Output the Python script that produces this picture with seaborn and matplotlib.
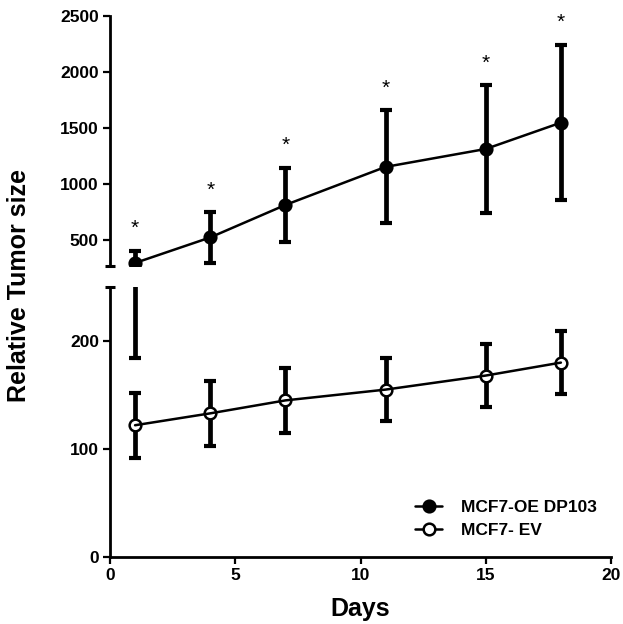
import numpy as np
import pandas as pd
import matplotlib
matplotlib.use("Agg")
import matplotlib.pyplot as plt
import seaborn as sns
from matplotlib.lines import Line2D

# ---- data ----
days = [1, 4, 7, 11, 15, 18]
dp103_mean = [292, 520, 810, 1150, 1310, 1545]
dp103_sd = [108, 225, 330, 505, 570, 695]
ev_mean = [122, 133, 145, 155, 168, 180]
ev_sd = [30, 30, 30, 29, 29, 29]
series_labels = ["MCF7-OE DP103", "MCF7- EV"]
signif = ["*", "*", "*", "*", "*", "*"]
x_ticks = [0, 5, 10, 15, 20]
upper_ticks = [500, 1000, 1500, 2000, 2500]
lower_ticks = [0, 100, 200]
x_label = "Days"
y_label = "Relative Tumor size"

sns.set_theme(style="ticks")
plt.rcParams["font.family"] = ["Liberation Sans", "DejaVu Sans"]
plt.rcParams["font.weight"] = "bold"
for k in ("text.color", "axes.labelcolor", "xtick.color", "ytick.color",
          "axes.edgecolor"):
    plt.rcParams[k] = "black"

df = pd.DataFrame({
    "Days": days * 2,
    "size": dp103_mean + ev_mean,
    "sd": dp103_sd + ev_sd,
    "group": [series_labels[0]] * len(days) + [series_labels[1]] * len(days),
})

W_PX, H_PX = 623, 624
fig = plt.figure(figsize=(W_PX / 100, H_PX / 100), dpi=100)
left = 110 / W_PX
width = 501 / W_PX
ax_top = fig.add_axes([left, (H_PX - 266) / H_PX, width, 250.3 / H_PX])
ax_bot = fig.add_axes([left, (H_PX - 557) / H_PX, width, 270 / H_PX])

face = {series_labels[0]: "black", series_labels[1]: "white"}

for ax in (ax_top, ax_bot):
    for name, sub in df.groupby("group", sort=False):
        ax.errorbar(sub["Days"], sub["size"], yerr=sub["sd"], fmt="none",
                    ecolor="black", elinewidth=3.4, capsize=4.6, capthick=3.0,
                    zorder=1)
        sns.lineplot(data=sub, x="Days", y="size", ax=ax, color="black",
                     linestyle="", marker="o", markersize=8.4,
                     markerfacecolor=face[name], markeredgecolor="black",
                     markeredgewidth=1.8, errorbar=None, zorder=2, legend=False)
        sns.lineplot(data=sub, x="Days", y="size", ax=ax, color="black",
                     linewidth=1.8, errorbar=None, zorder=3, legend=False)
    ax.set_xlim(0, 20)
    ax.set_xlabel("")
    ax.set_ylabel("")
    for s in ("top", "right"):
        ax.spines[s].set_visible(False)
    for s in ("left", "bottom"):
        ax.spines[s].set_linewidth(2.0)
        ax.spines[s].set_color("black")
    ax.tick_params(axis="both", direction="out", length=5, width=1.6,
                   color="black", labelsize=12.5, pad=3, labelcolor="black")

# upper segment
ax_top.set_ylim(265, 2500)
ax_top.set_yticks(upper_ticks)
ax_top.spines["bottom"].set_visible(False)
ax_top.tick_params(axis="x", bottom=False, labelbottom=False)
ax_top.plot([0], [0], transform=ax_top.transAxes, marker="_", ms=6.8,
            mew=2.2, color="black", clip_on=False)

# lower segment
ax_bot.set_ylim(0, 250)
ax_bot.set_yticks(lower_ticks)
ax_bot.set_xticks(x_ticks)
ax_bot.plot([0], [1], transform=ax_bot.transAxes, marker="_", ms=6.8,
            mew=2.2, color="black", clip_on=False)
for lab in ax_bot.get_xticklabels() + ax_bot.get_yticklabels() + ax_top.get_yticklabels():
    lab.set_fontweight("bold")
    lab.set_color("black")

# significance marks
for d, m, s, t in zip(days, dp103_mean, dp103_sd, signif):
    ax_top.annotate(t, xy=(d, m + s), xytext=(0, 16), textcoords="offset points",
                    ha="center", va="center", fontsize=15, fontweight="normal",
                    color="black", annotation_clip=False)

# legend
handles = [
    Line2D([0], [0], color="black", lw=1.8, marker="o", ms=8.4,
           mfc="black", mec="black", mew=1.8),
    Line2D([0], [0], color="black", lw=1.8, marker="o", ms=8.4,
           mfc="white", mec="black", mew=1.8),
]
leg = ax_bot.legend(handles, series_labels, loc="lower left",
                    bbox_to_anchor=(0.609, 0.07), frameon=False, borderpad=0,
                    borderaxespad=0, handlelength=1.55, handletextpad=1.1,
                    labelspacing=0.45, prop={"weight": "bold", "size": 12.5})
for t in leg.get_texts():
    t.set_color("black")

fig.text(360 / W_PX, 1 - 609 / H_PX, x_label, ha="center", va="center",
         fontsize=18, fontweight="bold", color="black")
fig.text(19 / W_PX, 1 - 286 / H_PX, y_label, ha="center", va="center",
         rotation=90, fontsize=18, fontweight="bold", color="black")

fig.savefig("out.png", dpi=100)
